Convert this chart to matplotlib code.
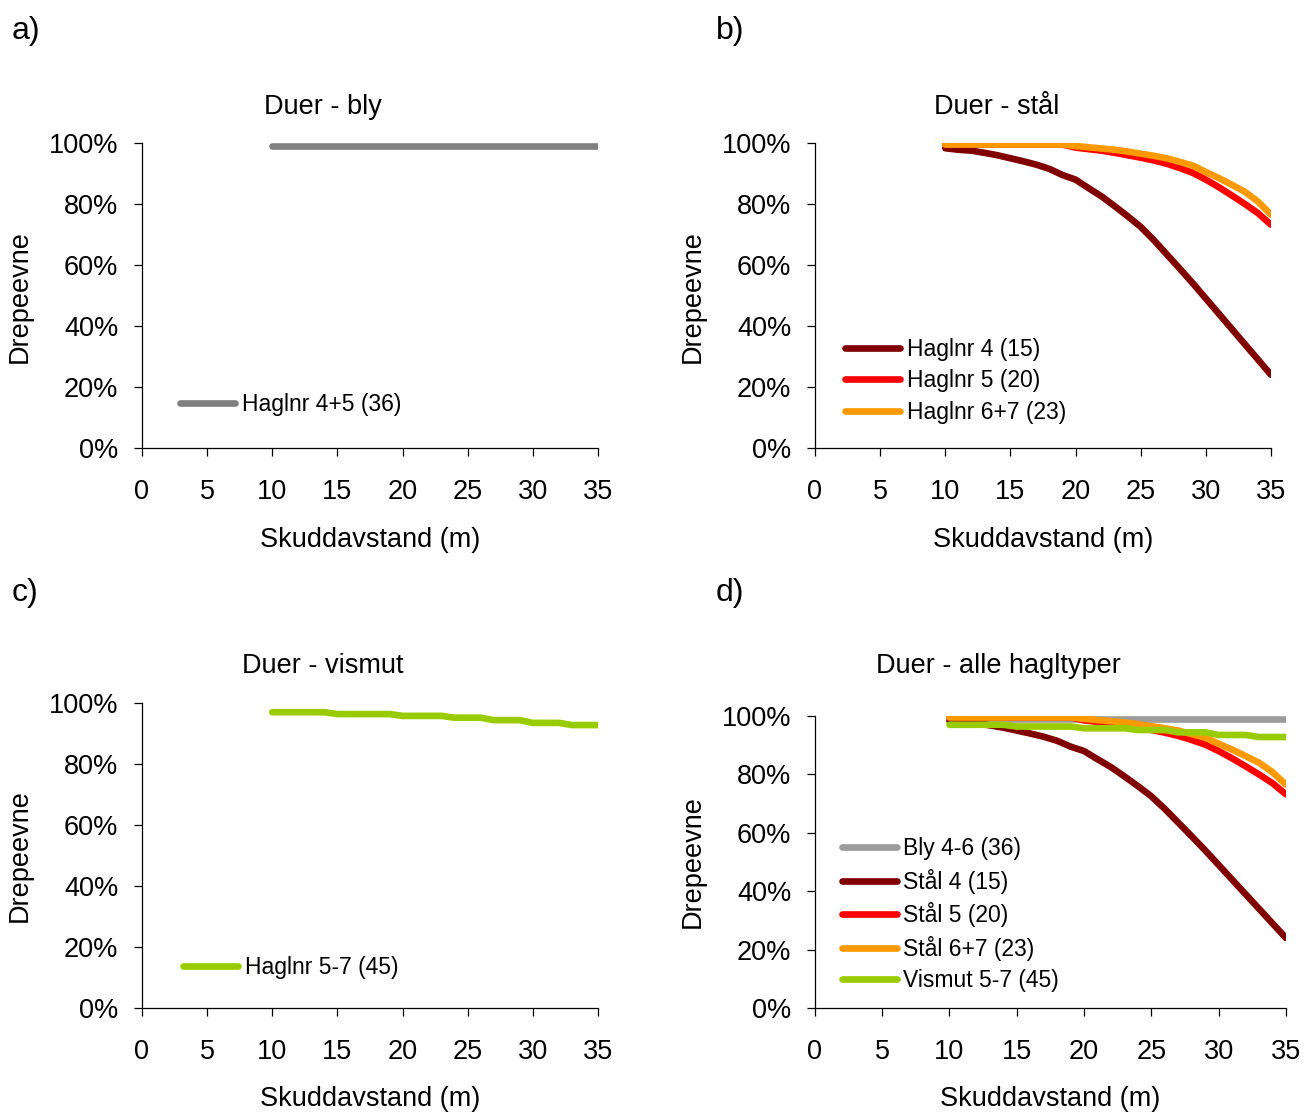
import numpy as np
import matplotlib
matplotlib.use("Agg")
import matplotlib.pyplot as plt
from matplotlib.ticker import PercentFormatter

plt.rcParams['font.family'] = ['Liberation Sans', 'DejaVu Sans']

## Skuddavstand (m) og drepeevne (%) lest av figuren
avstand = list(range(10, 36))

bly = [99.0, 99.0, 99.0, 99.0, 99.0, 99.0, 99.0, 99.0, 99.0, 99.0, 99.0, 99.0, 99.0,
       99.0, 99.0, 99.0, 99.0, 99.0, 99.0, 99.0, 99.0, 99.0, 99.0, 99.0, 99.0, 99.0]
stal4 = [98.3, 97.8, 97.5, 96.8, 96.0, 95.0, 94.0, 92.9, 91.5, 89.5, 88.0, 85.2, 82.5,
         79.3, 76.0, 72.5, 68.2, 63.5, 58.8, 54.0, 49.0, 44.0, 39.0, 34.0, 29.0, 24.0]
stal5 = [99.5, 99.5, 99.5, 99.5, 99.5, 99.5, 99.5, 99.5, 99.5, 99.5, 98.5, 98.0, 97.5,
         96.8, 96.0, 95.2, 94.3, 93.2, 91.8, 90.2, 88.0, 85.5, 82.8, 80.0, 77.0, 73.2]
stal67 = [99.5, 99.5, 99.5, 99.5, 99.5, 99.5, 99.5, 99.5, 99.5, 99.5, 99.0, 98.6, 98.2,
          97.8, 97.2, 96.5, 95.8, 95.0, 93.8, 92.6, 90.5, 88.5, 86.3, 84.0, 80.8, 76.5]
vismut = [97.0, 97.0, 97.0, 97.0, 97.0, 96.4, 96.4, 96.4, 96.4, 96.4, 95.8, 95.8, 95.8,
          95.8, 95.2, 95.2, 95.2, 94.4, 94.4, 94.4, 93.5, 93.5, 93.5, 92.8, 92.8, 92.8]

## Farger
c_bly = '#808080'
c_bly_d = '#9C9C9C'
c_s4 = '#800000'
c_s5 = '#FF0000'
c_s67 = '#FF9900'
c_vis = '#99CC00'

lw = 4.8
fs = 19.5
fs_leg = 16.5

fig = plt.figure(figsize=(13.06, 11.13), dpi=100)

## posisjon til hver akse [venstre, bunn, bredde, hoyde]
ax_a = fig.add_axes([0.1087, 0.5975, 0.3492, 0.2740])
ax_b = fig.add_axes([0.6240, 0.5975, 0.3492, 0.2740])
ax_c = fig.add_axes([0.1087, 0.0943, 0.3492, 0.2740])
ax_d = fig.add_axes([0.6240, 0.0943, 0.3606, 0.2624])


def stil(ax):
    ax.set_xlim(0, 35)
    ax.set_ylim(0, 100)
    ax.set_xticks(range(0, 36, 5))
    ax.set_yticks(range(0, 101, 20))
    ax.yaxis.set_major_formatter(PercentFormatter(xmax=100, decimals=0))
    ax.spines['top'].set_visible(False)
    ax.spines['right'].set_visible(False)
    ax.spines['left'].set_linewidth(0.9)
    ax.spines['bottom'].set_linewidth(0.9)
    ax.tick_params(axis='x', direction='out', length=6, width=0.9, pad=16, labelsize=fs)
    ax.tick_params(axis='y', direction='out', length=6, width=0.9, pad=11, labelsize=fs)


def legende(ax, x, y):
    ax.legend(loc='center left', bbox_to_anchor=(x, y), frameon=False, fontsize=fs_leg,
              handlelength=2.4, handletextpad=0.3, labelspacing=0.37,
              borderpad=0, borderaxespad=0)


## a) bly
ax_a.plot(avstand, bly, color=c_bly, lw=lw, solid_capstyle='round', label='Haglnr 4+5 (36)')
stil(ax_a)
legende(ax_a, 0.083, 0.141)

## b) stal
ax_b.plot(avstand, stal4, color=c_s4, lw=lw, solid_capstyle='round', label='Haglnr 4 (15)')
ax_b.plot(avstand, stal5, color=c_s5, lw=lw, solid_capstyle='round', label='Haglnr 5 (20)')
ax_b.plot(avstand, stal67, color=c_s67, lw=lw, solid_capstyle='round', label='Haglnr 6+7 (23)')
stil(ax_b)
legende(ax_b, 0.066, 0.220)

## c) vismut
ax_c.plot(avstand, vismut, color=c_vis, lw=lw, solid_capstyle='round', label='Haglnr 5-7 (45)')
stil(ax_c)
legende(ax_c, 0.091, 0.134)

## d) alle
ax_d.plot(avstand, bly, color=c_bly_d, lw=lw, solid_capstyle='round', label='Bly 4-6 (36)')
ax_d.plot(avstand, stal4, color=c_s4, lw=lw, solid_capstyle='round', label='Stål 4 (15)')
ax_d.plot(avstand, stal5, color=c_s5, lw=lw, solid_capstyle='round', label='Stål 5 (20)')
ax_d.plot(avstand, stal67, color=c_s67, lw=lw, solid_capstyle='round', label='Stål 6+7 (23)')
ax_d.plot(avstand, vismut, color=c_vis, lw=lw, solid_capstyle='round', label='Vismut 5-7 (45)')
stil(ax_d)
legende(ax_d, 0.0565, 0.3195)

## titler, aksetekster og bokstaver
fig.text(0.2473, 0.9035, 'Duer - bly', ha='center', va='center', fontsize=fs)
fig.text(0.7634, 0.9035, 'Duer - stål', ha='center', va='center', fontsize=fs)
fig.text(0.2473, 0.4012, 'Duer - vismut', ha='center', va='center', fontsize=fs)
fig.text(0.7642, 0.4012, 'Duer - alle hagltyper', ha='center', va='center', fontsize=fs)

fig.text(0.0092, 0.972, 'a)', ha='left', va='center', fontsize=23)
fig.text(0.548, 0.972, 'b)', ha='left', va='center', fontsize=23)
fig.text(0.0092, 0.467, 'c)', ha='left', va='center', fontsize=23)
fig.text(0.548, 0.467, 'd)', ha='left', va='center', fontsize=23)

fig.text(0.0153, 0.7332, 'Drepeevne', rotation=90, ha='center', va='center', fontsize=fs)
fig.text(0.5306, 0.7332, 'Drepeevne', rotation=90, ha='center', va='center', fontsize=fs)
fig.text(0.0153, 0.2314, 'Drepeevne', rotation=90, ha='center', va='center', fontsize=fs)
fig.text(0.5306, 0.2255, 'Drepeevne', rotation=90, ha='center', va='center', fontsize=fs)

fig.text(0.2833, 0.5150, 'Skuddavstand (m)', ha='center', va='center', fontsize=fs)
fig.text(0.7986, 0.5150, 'Skuddavstand (m)', ha='center', va='center', fontsize=fs)
fig.text(0.2833, 0.0125, 'Skuddavstand (m)', ha='center', va='center', fontsize=fs)
fig.text(0.804, 0.0125, 'Skuddavstand (m)', ha='center', va='center', fontsize=fs)

fig.savefig('out.png', dpi=100)
